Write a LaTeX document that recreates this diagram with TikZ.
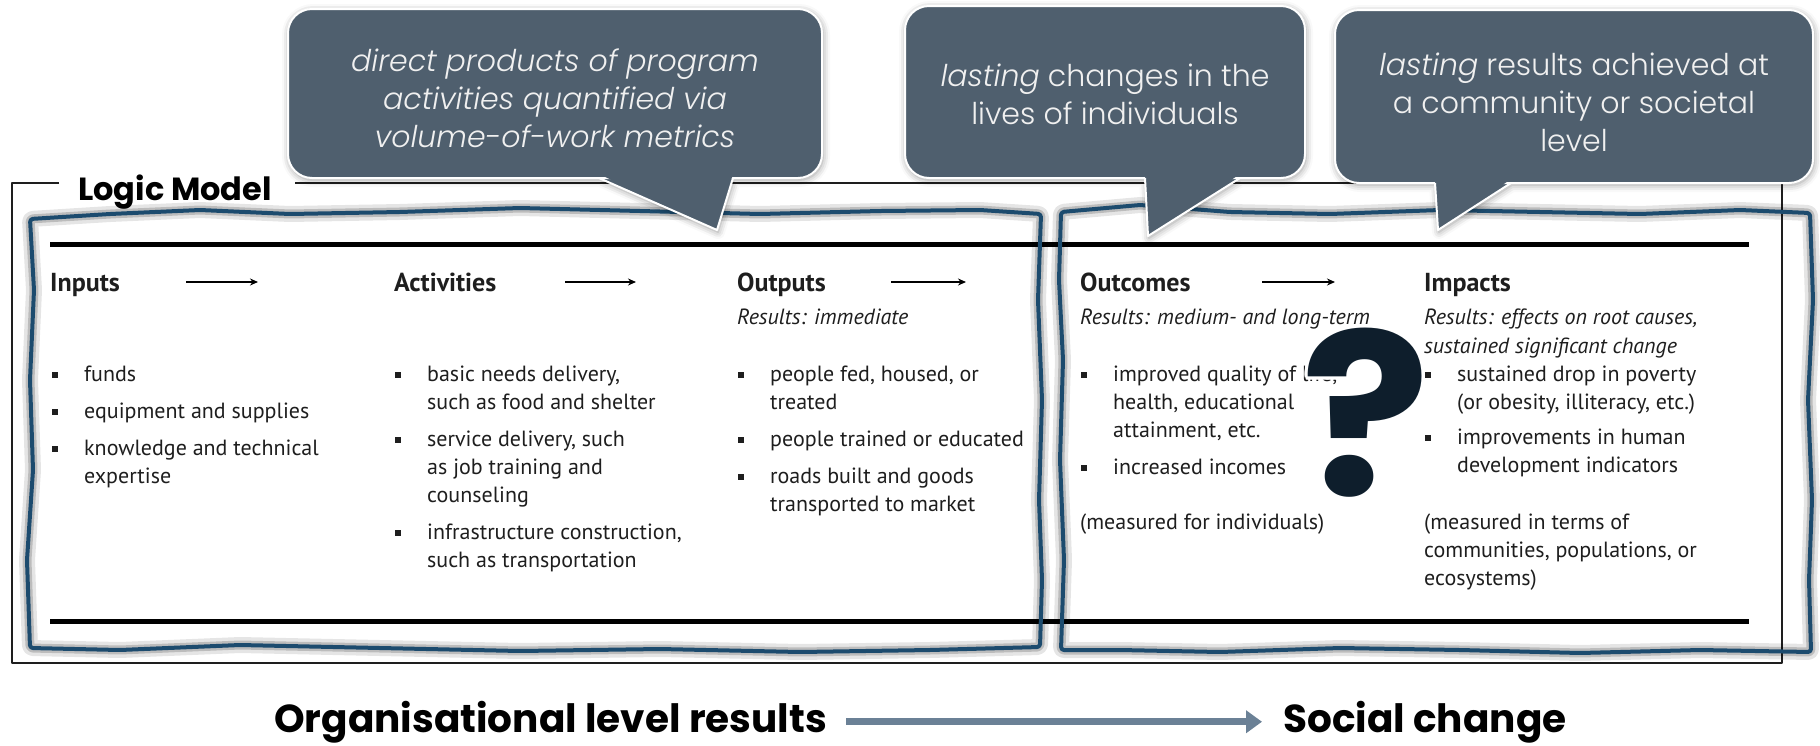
\documentclass[tikz,border=0pt]{standalone}
\usepackage{fontspec}
\setmainfont{PT Sans}
\newfontfamily\gothic{Poppins}
\newfontfamily\gothiclight{Poppins}[UprightFont={* Light}, ItalicFont={* Light Italic}]
\usepackage[copies]{contour}
\contourlength{3pt}
\contournumber{16}
\usetikzlibrary{arrows.meta,shadows.blur}

\definecolor{slate}{HTML}{4F5F6E}
\definecolor{frameblue}{HTML}{1C4B6E}
\definecolor{qnavy}{HTML}{0E1E2C}
\definecolor{arrowgrey}{HTML}{6B8196}
\definecolor{ink}{HTML}{1E1E1E}

\newcommand\sqbul{\rule[3pt]{6pt}{6pt}}

\tikzset{
  bubble/.style={fill=slate, draw=white, line width=2pt, rounded corners=24pt},
  bubbletext/.style={text=white!94!black, align=center, inner sep=0,
    font=\gothiclight\fontsize{30}{38}\selectfont},
  blueframe/.style={draw=frameblue, line width=4pt, rounded corners=3pt,
    preaction={draw=black, opacity=.10, line width=16pt},
    preaction={draw=black, opacity=.18, line width=9pt}},
  colhead/.style={anchor=base west, inner sep=0, text=ink,
    font=\bfseries\fontsize{26}{28}\selectfont},
  subhead/.style={anchor=base west, inner sep=0, text=ink,
    font=\itshape\fontsize{22}{29}\selectfont},
  items/.style={anchor=base west, inner sep=0, text=ink,
    font=\fontsize{22}{28}\selectfont},
  headarrow/.style={-{Stealth[length=8pt,width=7pt]}, line width=1.8pt},
  bigarrow/.style={-{Triangle[length=16pt,width=22pt]}, line width=7pt, draw=arrowgrey},
  bottomtext/.style={anchor=base west, inner sep=0, text=black,
    font=\gothic\bfseries\fontsize{39}{39}\selectfont}
}

% speech bubble: #1,#2 top left, #3,#4 bottom right, #5,#6 tail base, #7,#8 tip
\newcommand\bubble[8]{%
  \path[fill=slate, blur shadow={shadow xshift=1pt, shadow yshift=-2pt,
      shadow blur radius=7pt, shadow opacity=40}]
    [rounded corners=24pt] (#1,#2) rectangle (#3,#4)
    [sharp corners] (#5,#4) -- (#7,#8) -- (#6,#4) -- cycle;
  \draw[bubble] (#1,#2) rectangle (#3,#4);
  \fill[slate] (#5,{#4-4}) -- (#7,#8) -- (#6,{#4-4}) -- cycle;
  \draw[white, line width=2pt] (#5,#4) -- (#7,#8) -- (#6,#4);
}

\begin{document}
\begin{tikzpicture}[x=1pt, y=-1pt, line join=round]
\useasboundingbox (0,0) rectangle (1820,745);

% outer frame, open where the title sits
\draw[line width=2.5pt, ink] (59,183) -- (12,183) -- (12,663) -- (1782,663) -- (1782,183) -- (295,183);
\node[anchor=base west, inner sep=0, font=\gothic\bfseries\fontsize{32}{32}\selectfont] (lm) at (78,200) {Logic Model};

% rules of the table
\draw[line width=5pt] (50,244) -- (1749,244);
\draw[line width=5pt] (50,621) -- (1749,621);

% hand drawn frames
\draw[blueframe] (30,219) -- (110,214) -- (200,210) -- (290,214) -- (400,212) -- (520,208)
  -- (640,211) -- (760,214) -- (880,211) -- (980,210) -- (1041,214)
  -- (1038,300) -- (1042,400) -- (1039,500) -- (1042,580) -- (1040,647)
  -- (930,650) -- (800,652) -- (660,649) -- (520,651) -- (380,648) -- (240,645) -- (120,650) -- (30,648)
  -- (27,560) -- (33,470) -- (30,380) -- (34,290) -- cycle;
\draw[blueframe] (1061,212) -- (1140,205) -- (1230,212) -- (1330,214) -- (1440,210) -- (1540,212)
  -- (1640,214) -- (1740,210) -- (1810,213)
  -- (1813,300) -- (1808,400) -- (1812,500) -- (1809,580) -- (1811,652)
  -- (1700,650) -- (1580,653) -- (1460,650) -- (1340,648) -- (1220,652) -- (1120,650) -- (1061,650)
  -- (1064,560) -- (1060,460) -- (1063,360) -- (1059,280) -- cycle;

% column heads
\node[colhead] (inputs) at (50,291) {Inputs};
\node[colhead] (activities) at (394,291) {Activities};
\node[colhead] (outputs) at (737,291) {Outputs};
\node[colhead] (outcomes) at (1080,291) {Outcomes};
\node[colhead] (impacts) at (1424,291) {Impacts};
\foreach \a/\b in {186/258,565/636,891/966,1262/1335}
  \draw[headarrow] (\a,282) -- (\b,282);

\node[subhead] (outsub) at (737,324) {Results: immediate};
\node[subhead] (ocsub) at (1080,324) {Results: medium- and long-term};
\node[subhead] (imsub) at (1424,324) {\begin{tabular}[t]{@{}l@{}}Results: effects on root causes,\\sustained significant change\end{tabular}};

% bullet lists
\node[items] (inlist) at (52,381) {\begin{tabular}[t]{@{}p{32pt}@{}l@{}}
  \sqbul & funds\\[9pt]
  \sqbul & equipment and supplies\\[9pt]
  \sqbul & knowledge and technical\\
         & expertise
\end{tabular}};
\node[items] (aclist) at (395,381) {\begin{tabular}[t]{@{}p{32pt}@{}l@{}}
  \sqbul & basic needs delivery,\\
         & such as food and shelter\\[9pt]
  \sqbul & service delivery, such\\
         & as job training and\\
         & counseling\\[9pt]
  \sqbul & infrastructure construction,\\
         & such as transportation
\end{tabular}};
\node[items] (oplist) at (738,381) {\begin{tabular}[t]{@{}p{32pt}@{}l@{}}
  \sqbul & people fed, housed, or\\
         & treated\\[9pt]
  \sqbul & people trained or educated\\[9pt]
  \sqbul & roads built and goods\\
         & transported to market
\end{tabular}};
\node[items] (oclist) at (1081,381) {\begin{tabular}[t]{@{}p{32pt}@{}l@{}}
  \sqbul & improved quality of life,\\
         & health, educational\\
         & attainment, etc.\\[9pt]
  \sqbul & increased incomes
\end{tabular}};
\node[items] (imlist) at (1425,381) {\begin{tabular}[t]{@{}p{32pt}@{}l@{}}
  \sqbul & sustained drop in poverty\\
         & (or obesity, illiteracy, etc.)\\[7pt]
  \sqbul & improvements in human\\
         & development indicators
\end{tabular}};
\node[items] (ocnote) at (1080,529) {(measured for individuals)};
\node[items] (imnote) at (1424,529) {\begin{tabular}[t]{@{}l@{}}(measured in terms of\\communities, populations, or\\ecosystems)\end{tabular}};

% big question mark
\node[inner sep=0, text=qnavy, font=\gothic\bfseries\fontsize{226}{226}\selectfont] (qm) at (1366,414) {\scalebox{1.06}[1]{\contour{white}{?}}};

% speech bubbles
\bubble{288}{9}{822}{178}{599}{733}{717}{230}
\bubble{905}{6}{1305}{178}{1145}{1240}{1148}{236}
\bubble{1335}{10}{1813}{183}{1435}{1511}{1438}{230}
\node[bubbletext] (b1) at (555,98) {\itshape direct products of program\\ \itshape activities quantified via\\ \itshape volume-of-work metrics};
\node[bubbletext] (b2) at (1105,94) {\textit{lasting} changes in the\\lives of individuals};
\node[bubbletext] (b3) at (1574,102) {\textit{lasting} results achieved at\\a community or societal\\level};

% bottom line
\node[bottomtext] (org) at (274,732) {Organisational level results};
\node[bottomtext] (soc) at (1283,732) {Social change};
\draw[bigarrow, shorten <=19pt, shorten >=21pt] (org.east) -- (soc.west |- org.east);
\end{tikzpicture}
\end{document}
